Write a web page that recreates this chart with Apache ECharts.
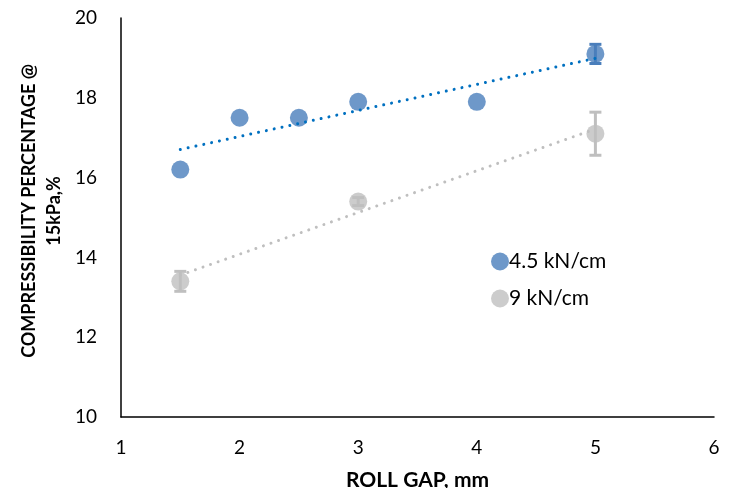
<!DOCTYPE html>
<html><head><meta charset="utf-8">
<script src="https://cdn.jsdelivr.net/npm/echarts@6/dist/echarts.min.js"></script>
<style>html,body{margin:0;padding:0;background:#fff}#c{width:737px;height:488px}</style>
</head><body><div id="c"></div>
<script>
const xTicks = [1, 2, 3, 4, 5, 6];
const yTicks = [10, 12, 14, 16, 18, 20];
const seriesNames = ['4.5 kN/cm', '9 kN/cm'];
const xBlue = [1.5, 2, 2.5, 3, 4, 5];
const yBlue = [16.2, 17.5, 17.5, 17.9, 17.9, 19.1];
const errBlue = [0, 0, 0, 0, 0, 0.24];
const xGray = [1.5, 3, 5];
const yGray = [13.4, 15.4, 17.1];
const errGray = [0.25, 0.1, 0.54];

const BLUE = '#4a7ebb', BLUE_TREND = '#0070c0', GRAY = '#bfbfbf';
const FONT = 'Lato, "Open Sans", sans-serif';

function fit(xs, ys) {
  const n = xs.length;
  const mx = xs.reduce((a, b) => a + b, 0) / n;
  const my = ys.reduce((a, b) => a + b, 0) / n;
  let sxy = 0, sxx = 0;
  for (let i = 0; i < n; i++) { sxy += (xs[i] - mx) * (ys[i] - my); sxx += (xs[i] - mx) ** 2; }
  const b = sxy / sxx, a = my - b * mx;
  const x0 = Math.min(...xs), x1 = Math.max(...xs);
  return [[x0, a + b * x0], [x1, a + b * x1]];
}
function pts(xs, ys) { return xs.map((x, i) => [x, ys[i]]); }
function errPts(xs, ys, es) { return xs.map((x, i) => [x, ys[i], es[i]]); }

function errRender(color) {
  return function (params, api) {
    const e = api.value(2);
    if (!e) return;
    const x = api.value(0), y = api.value(1);
    const top = api.coord([x, y + e]), bot = api.coord([x, y - e]);
    const hw = 6;
    const st = { stroke: color, lineWidth: 3 };
    return {
      type: 'group',
      children: [
        { type: 'line', shape: { x1: top[0], y1: top[1], x2: bot[0], y2: bot[1] }, style: st },
        { type: 'line', shape: { x1: top[0] - hw, y1: top[1], x2: top[0] + hw, y2: top[1] }, style: st },
        { type: 'line', shape: { x1: bot[0] - hw, y1: bot[1], x2: bot[0] + hw, y2: bot[1] }, style: st }
      ]
    };
  };
}

const chart = echarts.init(document.getElementById('c'), null, { renderer: 'canvas' });
chart.setOption({
  animation: false,
  backgroundColor: '#fff',
  grid: { left: 121, right: 23, top: 18, bottom: 71, containLabel: false, outerBoundsMode: 'none' },
  xAxis: {
    type: 'value', min: xTicks[0], max: xTicks[xTicks.length - 1], interval: 1,
    axisLine: { show: true, lineStyle: { color: '#000', width: 1.5 } },
    axisTick: { show: false }, splitLine: { show: false },
    axisLabel: { color: '#000', fontSize: 19, fontFamily: FONT, margin: 21 },
    name: 'ROLL GAP, mm', nameLocation: 'middle', nameGap: 53,
    nameTextStyle: { color: '#000', fontSize: 21, fontWeight: 'bold', fontFamily: FONT }
  },
  yAxis: {
    type: 'value', min: yTicks[0], max: yTicks[yTicks.length - 1], interval: 2,
    axisLine: { show: true, lineStyle: { color: '#000', width: 1.5 } },
    axisTick: { show: false }, splitLine: { show: false },
    axisLabel: { color: '#000', fontSize: 19, fontFamily: FONT, margin: 24 }
  },
  graphic: [{
    type: 'text', x: 42, y: 211, rotation: Math.PI / 2,
    style: {
      text: 'COMPRESSIBILITY PERCENTAGE @\n15kPa,%', textAlign: 'center', textVerticalAlign: 'middle',
      fill: '#000', font: 'bold 18px ' + FONT, lineHeight: 25
    }
  }],
  legend: {
    orient: 'vertical', left: 486, top: 246, itemGap: 16, itemWidth: 18, itemHeight: 18,
    icon: 'circle', textStyle: { color: '#000', fontSize: 21, fontFamily: FONT, padding: [0, 0, 0, -5] },
    data: seriesNames
  },
  series: [
    { type: 'custom', data: errPts(xBlue, yBlue, errBlue), renderItem: errRender(BLUE), z: 1 },
    { type: 'custom', data: errPts(xGray, yGray, errGray), renderItem: errRender(GRAY), z: 1 },
    { name: seriesNames[0], type: 'scatter', data: pts(xBlue, yBlue), symbolSize: 18, z: 2,
      itemStyle: { color: BLUE } },
    { name: seriesNames[1], type: 'scatter', data: pts(xGray, yGray), symbolSize: 18, z: 2,
      itemStyle: { color: GRAY } },
    { type: 'line', data: fit(xBlue, yBlue), symbol: 'none', silent: true, z: 3,
      lineStyle: { color: BLUE_TREND, width: 3, type: [0.01, 8], cap: 'round' } },
    { type: 'line', data: fit(xGray, yGray), symbol: 'none', silent: true, z: 3,
      lineStyle: { color: GRAY, width: 3, type: [0.01, 8], cap: 'round' } }
  ]
});
</script></body></html>
